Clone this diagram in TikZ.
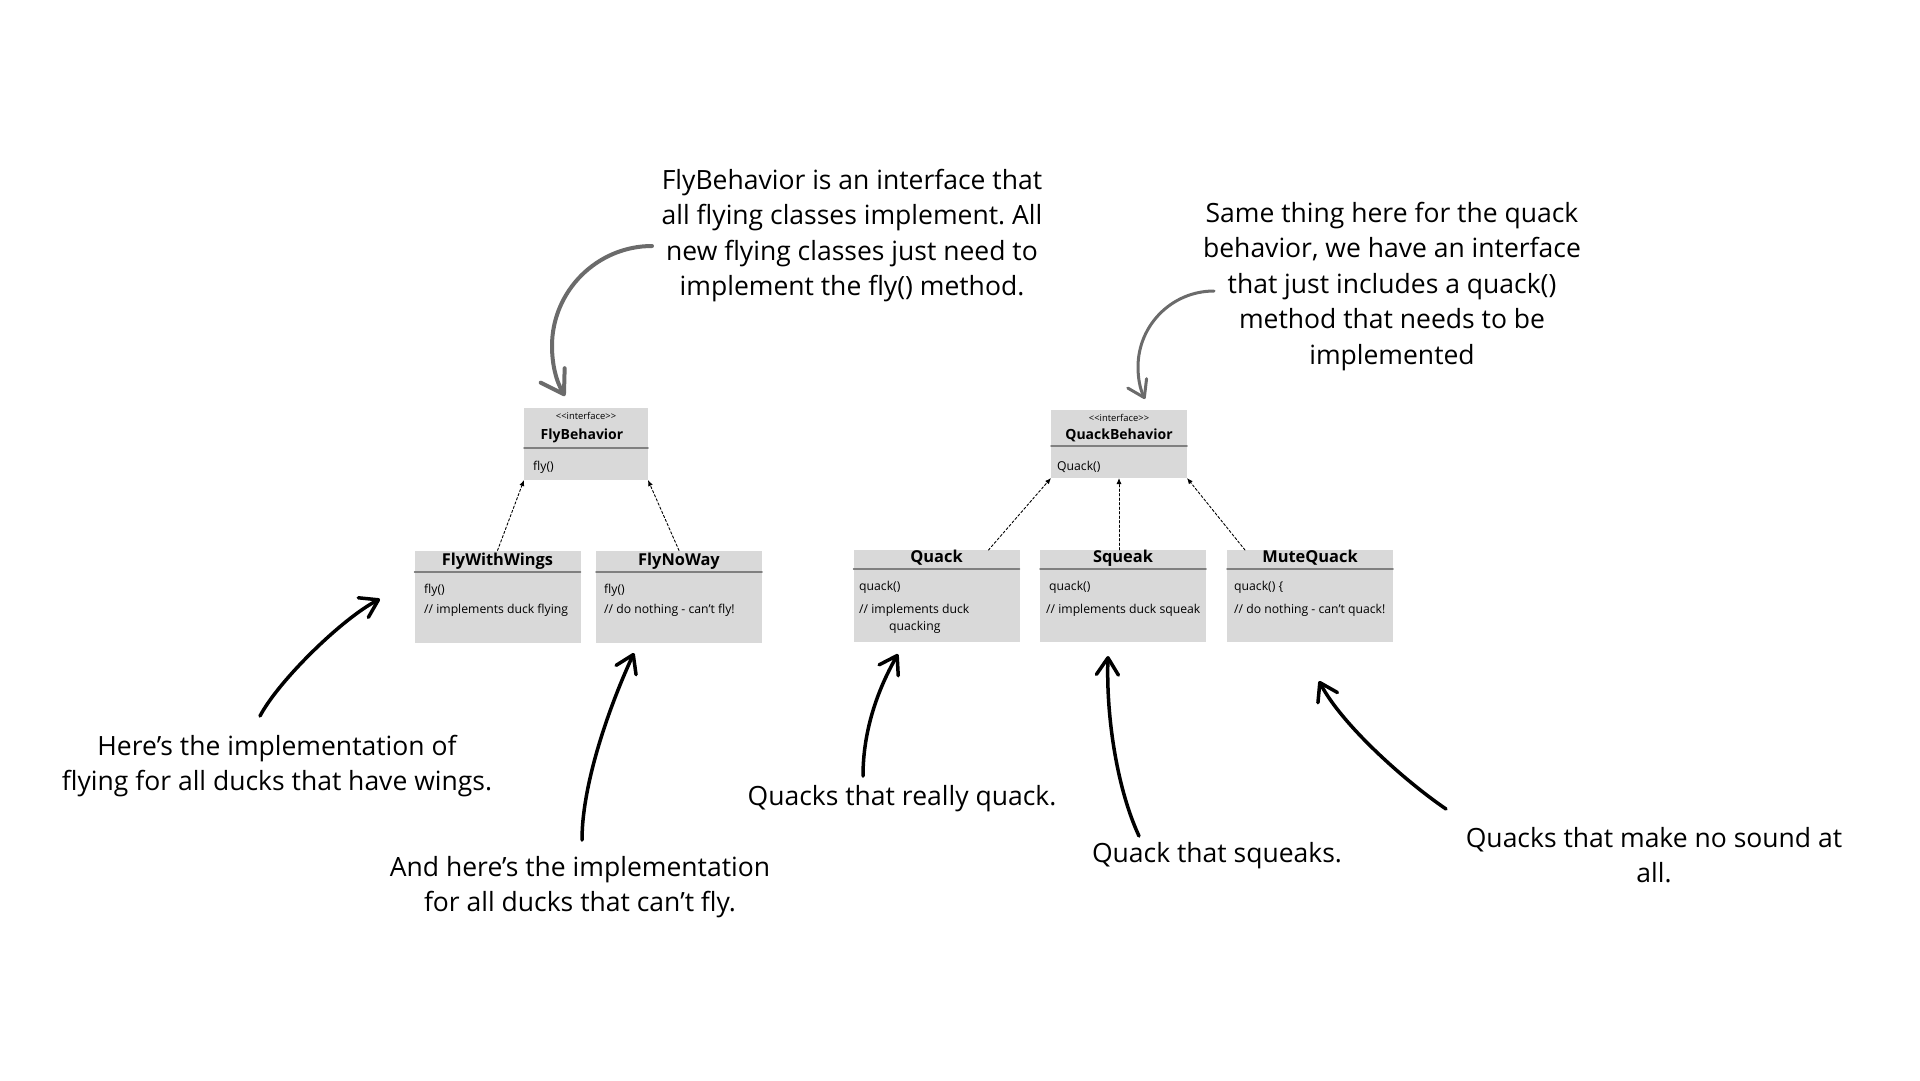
\documentclass[tikz,border=0pt]{standalone}
\usepackage{fontspec}
\setmainfont{Open Sans}
\usetikzlibrary{arrows.meta}
\definecolor{boxgray}{HTML}{D9D9D9}
\definecolor{sepgray}{HTML}{808080}
\definecolor{hintgray}{HTML}{6B6B6B}
\frenchspacing
\begin{document}
\begin{tikzpicture}[x=1pt, y=-1pt, line join=round, line cap=round,
    classbox/.style={fill=boxgray, inner sep=0pt, outer sep=0pt},
    sepline/.style={draw=sepgray, line width=1.5pt},
    head/.style={font=\fontsize{16.4}{19}\selectfont\bfseries, inner sep=0pt},
    ihead/.style={font=\fontsize{14}{16}\selectfont\bfseries, inner sep=0pt},
    stereo/.style={font=\fontsize{9.4}{11}\selectfont, inner sep=0pt},
    member/.style={font=\fontsize{12.2}{14}\selectfont, anchor=west, inner sep=0pt},
    realize/.style={line width=0.9pt, dash pattern=on 2.5pt off 2pt, -{Latex[length=6pt,width=5pt]}},
    note/.style={font=\fontsize{26.5}{35.5}\selectfont, align=center, inner sep=0pt},
    callout/.style={line width=3.5pt, -{Straight Barb[length=17pt,width=22pt,round]}},
    hint/.style={draw=hintgray, line width=4pt, -{Straight Barb[length=22pt,width=28pt,round]}}]
    \useasboundingbox (0,0) rectangle (1920,1080);

    % interfaces
    \node[classbox, minimum width=124pt, minimum height=72pt] (flybeh) at (586,444) {};
    \node[stereo] (flybehst) at (586,416) {<{}<interface>{}>};
    \node[ihead] (flybehname) at (582,436) {FlyBehavior};
    \draw[sepline] (524,448) -- (648,448);
    \node[member] (flybehm) at (533,467) {fly()};

    \node[classbox, minimum width=136pt, minimum height=68pt] (quackbeh) at (1119,444) {};
    \node[stereo] (quackbehst) at (1119,418) {<{}<interface>{}>};
    \node[ihead] (quackbehname) at (1119,435) {QuackBehavior};
    \draw[sepline] (1051,446) -- (1187,446);
    \node[member] (quackbehm) at (1057,467) {Quack()};

    % fly classes
    \node[classbox, minimum width=166pt, minimum height=92pt] (fww) at (497.5,596.5) {};
    \node[head] (fwwname) at (497.5,561) {FlyWithWings};
    \draw[sepline] (414.5,572) -- (580.5,572);
    \node[member] (fwwm) at (424,590) {fly()};
    \node[member] (fwwc) at (424,610) {// implements duck flying};

    \node[classbox, minimum width=166pt, minimum height=92pt] (fnw) at (679,596.5) {};
    \node[head] (fnwname) at (679,561) {FlyNoWay};
    \draw[sepline] (596,572) -- (762,572);
    \node[member] (fnwm) at (604,590) {fly()};
    \node[member] (fnwc) at (604,610) {// do nothing - can’t fly!};

    % quack classes
    \node[classbox, minimum width=166pt, minimum height=92pt] (quack) at (936.5,596) {};
    \node[head] (quackname) at (936.5,558) {Quack};
    \draw[sepline] (853.5,569) -- (1019.5,569);
    \node[member] (quackm) at (859,587) {quack()};
    \node[member] (quackc) at (859,610) {// implements duck};
    \node[member] (quackc2) at (889,627) {quacking};

    \node[classbox, minimum width=166pt, minimum height=92pt] (squeak) at (1123,596) {};
    \node[head] (squeakname) at (1123,558) {Squeak};
    \draw[sepline] (1040,569) -- (1206,569);
    \node[member] (squeakm) at (1049,587) {quack()};
    \node[member] (squeakc) at (1046,610) {// implements duck squeak};

    \node[classbox, minimum width=166pt, minimum height=92pt] (mute) at (1310,596) {};
    \node[head] (mutename) at (1310,558) {MuteQuack};
    \draw[sepline] (1227,569) -- (1393,569);
    \node[member] (mutem) at (1234,587) {quack() \{};
    \node[member] (mutec) at (1234,610) {// do nothing - can’t quack!};

    \draw[realize] (fww.north) -- (flybeh.south west);
    \draw[realize] (fnw.north) -- (flybeh.south east);
    \draw[realize] ([xshift=52pt]quack.north) -- (quackbeh.south west);
    \draw[realize] (squeak.north -| quackbeh.south) -- (quackbeh.south);
    \draw[realize] ([xshift=-65pt]mute.north) -- (quackbeh.south east);

    % notes
    \node[note] (flynote) at (852,235.5) {FlyBehavior is an interface that\\all flying classes implement. All\\new flying classes just need to\\implement the fly() method.};
    \node[note] (quacknote) at (1392,286.5) {Same thing here for the quack\\behavior, we have an interface\\that just includes a quack()\\method that needs to be\\implemented};
    \node[note] (wingsnote) at (277,766) {Here’s the implementation of\\flying for all ducks that have wings.};
    \node[note] (nowaynote) at (580,887) {And here’s the implementation\\for all ducks that can’t fly.};
    \node[note] (quacksnote) at (902,799) {Quacks that really quack.};
    \node[note] (squeaknote) at (1217,856) {Quack that squeaks.};
    \node[note] (mutenote) at (1654,855) {Quacks that make no sound at\\all.};

    % curved pointers
    \coordinate (flytail) at (652,246);
    \coordinate (flytip) at (565,396);
    \draw[hint] (flytail) .. controls (597,246) and (552,291) .. (552,346)
        .. controls (552,364) and (556,381) .. (flytip);
    \coordinate (quacktail) at (1214,291);
    \coordinate (quacktip) at (1145,399);
    \draw[hint, line width=3pt, -{Straight Barb[length=16pt,width=21pt,round]}] (quacktail) .. controls (1172,291) and (1138,325) .. (1138,367)
        .. controls (1138,378) and (1140,389) .. (quacktip);

    \coordinate (wingstail) at (260,716);
    \coordinate (wingstip) at (380,599);
    \draw[callout] (wingstail) .. controls (279,680) and (343,618) .. (wingstip);
    \coordinate (nowaytail) at (582,840);
    \coordinate (nowaytip) at (634,653);
    \draw[callout] (nowaytail) .. controls (582,780) and (613,698) .. (nowaytip);
    \coordinate (quackstail) at (863,776);
    \coordinate (quackstip) at (898,654);
    \draw[callout] (quackstail) .. controls (863,730) and (878,689) .. (quackstip);
    \coordinate (squeaktail) at (1139,836);
    \coordinate (squeaktip) at (1108,656);
    \draw[callout] (squeaktail) .. controls (1118,791) and (1106,720) .. (squeaktip);
    \coordinate (mutetail) at (1446,809);
    \coordinate (mutetip) at (1319,681);
    \draw[callout] (mutetail) .. controls (1405,781) and (1342,725) .. (mutetip);
\end{tikzpicture}
\end{document}
